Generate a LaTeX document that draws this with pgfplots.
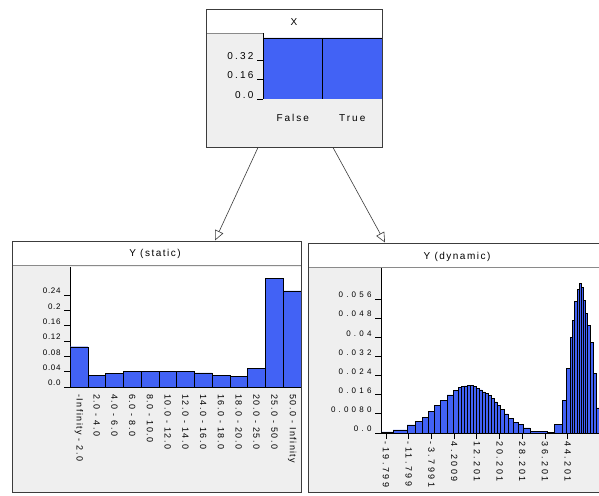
\documentclass[border=0pt]{standalone}
\usepackage{fontspec}
\setmainfont{Liberation Sans}
\usepackage{pgfplots}
\pgfplotsset{compat=1.18}
\usetikzlibrary{arrows.meta}
\definecolor{barblue}{RGB}{66,98,245}
\definecolor{nodegray}{RGB}{239,239,239}
\definecolor{edgec}{RGB}{60,60,60}
\newcommand{\fs}[2]{\fontsize{#1}{#1}\selectfont\addfontfeatures{LetterSpace=#2}}
\begin{document}
\begin{tikzpicture}
\fill[white] (0pt,0pt) rectangle (599pt,495pt);
% ---------------- Node X ----------------
\fill[nodegray] (206pt,348pt) rectangle (382pt,486pt);
\fill[white] (206pt,462pt) rectangle (382pt,486pt);
\draw[edgec!60, line width=0.5pt] (206pt,462pt) -- (382pt,462pt);
\draw[edgec, line width=0.9pt] (206pt,348pt) rectangle (382pt,486pt);
\node[font=\fs{10}{15}] at (294pt,473pt) {X};
\begin{axis}[at={(263pt,396pt)}, anchor=south west, scale only axis,
  width=119pt, height=66pt, xmin=0, xmax=2, ymin=0, ymax=0.541,
  axis x line*=bottom, axis y line*=left,
  axis line style={line width=1pt},
  axis background/.style={fill=white},
  ytick={0,0.16,0.32}, yticklabels={0.0,0.16,0.32},
  xtick={0.5,1.5}, xticklabels={False,True},
  x tick style={draw=none},
  extra x ticks={1}, extra x tick labels={},
  extra x tick style={tick style={draw=black}},
  tick align=outside, major tick length=6pt,
  tick style={black, line width=0.8pt},
  yticklabel style={font=\fs{10}{22}, yshift=4pt},
  xticklabel style={font=\fs{10}{20}, yshift=-6pt},
]
\addplot[ybar interval, fill=barblue, draw=black] coordinates {(0,0.5)(1,0.5)(2,0.5)};
\end{axis}
\draw[edgec, line width=0.9pt] (382pt,348pt) -- (382pt,486pt);
% ---------------- arrows ----------------
\draw[edgec, line width=0.6pt, -{Triangle[open,length=10pt,width=9pt]}] (258pt,347.5pt) -- (215pt,254.5pt);
\draw[edgec, line width=0.6pt, -{Triangle[open,length=10pt,width=9pt]}] (333pt,347.5pt) -- (385pt,252.5pt);
% ---------------- Node Y static ----------------
\fill[nodegray] (12pt,3pt) rectangle (301pt,254pt);
\fill[white] (12pt,230pt) rectangle (301pt,254pt);
\draw[edgec!60, line width=0.5pt] (12pt,230pt) -- (301pt,230pt);
\node[font=\fs{10}{15}] at (155pt,241pt) {Y (static)};
\begin{axis}[at={(70pt,108pt)}, anchor=south west, scale only axis,
  width=231pt, height=120pt, xmin=0, xmax=13, ymin=0, ymax=0.313,
  axis x line*=bottom, axis y line*=left,
  axis line style={line width=1pt},
  axis background/.style={fill=white},
  ytick={0,0.04,0.08,0.12,0.16,0.2,0.24},
  yticklabels={0.0,0.04,0.08,0.12,0.16,0.2,0.24},
  xtick={0.5,1.5,2.5,3.5,4.5,5.5,6.5,7.5,8.5,9.5,10.5,11.5,12.5},
  xticklabels={-Infinity - 2.0,2.0 - 4.0,4.0 - 6.0,6.0 - 8.0,8.0 - 10.0,10.0 - 12.0,12.0 - 14.0,14.0 - 16.0,16.0 - 18.0,18.0 - 20.0,20.0 - 25.0,25.0 - 50.0,50.0 - Infinity},
  x tick style={draw=none},
  extra x ticks={0,1,2,3,4,5,6,7,8,9,10,11,12,13}, extra x tick labels={},
  extra x tick style={tick style={draw=black}, major tick length=3pt},
  tick align=outside, major tick length=6pt,
  tick style={black, line width=0.8pt},
  yticklabel style={font=\fs{8}{8}, yshift=4pt},
  xticklabel style={font=\fs{9}{16}, rotate=-90, anchor=west, xshift=-2pt},
]
\addplot[ybar interval, fill=barblue, draw=black] coordinates {
(0,0.105)(1,0.031)(2,0.036)(3,0.040)(4,0.040)(5,0.040)(6,0.040)
(7,0.037)(8,0.031)(9,0.027)(10,0.048)(11,0.284)(12,0.251)(13,0.251)};
\end{axis}
\draw[edgec, line width=0.9pt] (12pt,3pt) rectangle (301pt,254pt);
% ---------------- Node Y dynamic ----------------
\fill[nodegray] (308pt,3pt) rectangle (606pt,252pt);
\fill[white] (308pt,228pt) rectangle (606pt,252pt);
\draw[edgec!60, line width=0.5pt] (308pt,228pt) -- (606pt,228pt);
\node[font=\fs{10}{15}] at (457pt,238pt) {Y (dynamic)};
\begin{axis}[at={(381pt,62pt)}, anchor=south west, scale only axis,
  width=223pt, height=165pt, xmin=-21.56, xmax=56.962, ymin=0, ymax=0.069,
  axis x line*=bottom, axis y line*=left,
  axis line style={line width=1pt},
  axis background/.style={fill=white},
  ytick={0,0.008,0.016,0.024,0.032,0.04,0.048,0.056},
  yticklabels={0.0,0.0080,0.016,0.024,0.032,0.04,0.048,0.056},
  scaled y ticks=false,
  xtick={-19.799,-11.799,-3.799,4.201,12.201,20.201,28.201,36.201,44.201},
  xticklabels={-19.799,-11.799,-3.7991,4.2009,12.201,20.201,28.201,36.201,44.201},
  tick align=outside, major tick length=6pt,
  tick style={black, line width=0.8pt},
  yticklabel style={font=\fs{8}{40}, yshift=4pt},
  xticklabel style={font=\fs{9}{28}, rotate=-90, anchor=west, xshift=-1pt},
]
\addplot[ybar interval, fill=barblue, draw=black, line width=0.6pt] coordinates {
(-21.560,0.0005)(-17.334,0.0013)(-12.405,0.0034)(-9.588,0.0047)(-7.123,0.0064)
(-5.010,0.0092)(-2.898,0.0117)(-0.785,0.0135)(1.680,0.0159)(3.793,0.0177)
(5.553,0.0190)(6.609,0.0194)(7.666,0.0197)(8.722,0.0198)(9.778,0.0198)
(10.835,0.0196)(11.891,0.0188)(12.947,0.0180)(14.004,0.0172)(15.060,0.0165)
(16.116,0.0156)(17.173,0.0145)(18.229,0.0130)(19.286,0.0115)(20.342,0.0100)
(21.750,0.0080)(23.159,0.0060)(24.919,0.0045)(26.680,0.0035)(28.440,0.0021)
(30.905,0.0008)(36.891,0.0003)(39.356,0.0035)(42.173,0.0138)(43.581,0.0270)
(44.990,0.0400)(45.694,0.0470)(46.398,0.0550)(47.455,0.0600)(48.159,0.0627)
(48.863,0.0610)(49.567,0.0556)(50.271,0.0500)(50.976,0.0450)(52.032,0.0380)
(53.088,0.0250)(54.145,0.0105)(55.201,0.0050)(56.257,0.0015)(56.962,0.0015)};
\end{axis}
\draw[edgec, line width=0.9pt] (308pt,3pt) rectangle (606pt,252pt);
\pgfresetboundingbox
\useasboundingbox (0pt,0pt) rectangle (599pt,495pt);
\end{tikzpicture}
\end{document}
